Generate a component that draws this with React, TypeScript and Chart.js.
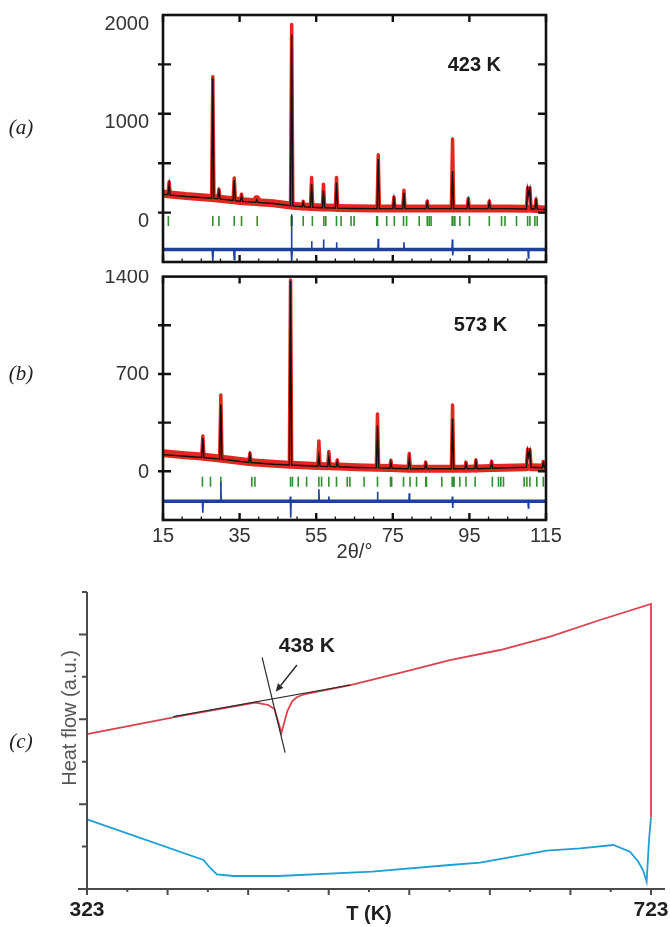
import { useEffect, useRef } from "react";
import { Chart, registerables } from "chart.js";

Chart.register(...registerables);

const SANS = "'Liberation Sans', Arial, Helvetica, sans-serif";
const SERIF = "'Liberation Serif', 'Times New Roman', serif";

// ---------------- shared 2θ axis ----------------
const twoThetaLabels = [15, 35, 55, 75, 95, 115];
const twoThetaMinor = [20, 25, 30, 40, 45, 50, 60, 65, 70, 80, 85, 90, 100, 105, 110];

// ---------------- (a) 423 K ----------------
const tthA = [15, 16.3, 16.6, 16.9, 21, 27.7, 28.0, 28.3, 29.3, 29.6, 29.9, 33.3, 33.6, 33.9, 35.2, 35.5, 35.8, 39.2, 39.5, 39.8, 43.8, 48.3, 48.6, 48.9, 51.3, 51.6, 51.9, 53.5, 53.8, 54.1, 56.6, 56.9, 57.2, 60.0, 60.3, 60.6, 65, 70.9, 71.2, 71.5, 75.0, 75.3, 75.6, 77.6, 77.9, 78.2, 83.7, 84.0, 84.3, 90.3, 90.6, 90.9, 94.4, 94.7, 95.0, 99.9, 100.2, 100.5, 104.7, 109.9, 110.2, 110.5, 110.8, 111.1, 112.1, 112.4, 112.7, 115];
const obsA = [195, 186, 311, 184, 168, 148, 1375, 146, 142, 237, 140, 125, 349, 123, 118, 186, 116, 106, 135, 105, 95, 72, 1905, 70, 62, 114, 61, 57, 356, 56, 52, 288, 51, 48, 356, 47, 44, 41, 586, 41, 41, 159, 41, 41, 227, 41, 41, 118, 41, 41, 745, 41, 41, 142, 41, 41, 118, 41, 41, 38, 254, 190, 250, 38, 37, 135, 36, 32];
const calcA = [185, 180, 290, 178, 163, 145, 1360, 143, 140, 220, 138, 123, 330, 121, 116, 170, 114, 104, 130, 103, 92, 70, 1800, 68, 60, 105, 59, 55, 290, 54, 50, 220, 49, 46, 305, 45, 42, 40, 545, 40, 40, 140, 40, 40, 200, 40, 40, 100, 40, 40, 420, 40, 40, 125, 40, 40, 105, 40, 40, 37, 245, 180, 240, 37, 36, 125, 35, 31];
const diffTthA = [15, 27.85, 28.0, 28.15, 33.45, 33.6, 33.75, 48.45, 48.55, 48.65, 48.75, 53.7, 53.8, 53.9, 56.8, 56.9, 57.0, 60.2, 60.3, 60.4, 71.1, 71.2, 71.3, 77.8, 77.9, 78.0, 90.45, 90.55, 90.65, 90.75, 110.3, 110.4, 110.5, 115];
const diffA = [-373, -373, -492, -373, -373, -475, -373, -373, -17, -492, -373, -373, -289, -373, -373, -272, -373, -373, -299, -373, -373, -265, -373, -373, -300, -373, -373, -272, -434, -373, -373, -458, -373, -373];
const braggA = [16.4, 28.0, 29.6, 33.6, 35.5, 39.6, 48.5, 48.7, 51.6, 54.0, 57.0, 57.5, 60.3, 61.5, 64.1, 64.9, 70.8, 71.0, 73.4, 75.4, 77.8, 78.6, 81.9, 84.0, 84.5, 85.0, 90.5, 90.7, 91.2, 92.5, 95.0, 100.2, 103.4, 104.3, 107.3, 110.2, 110.8, 112.1, 112.7];
const yLabelsA = [0, 1000, 2000];
const yMarksA = [0, 500, 1000, 1500];

// ---------------- (b) 573 K ----------------
const tthB = [15, 20, 25.1, 25.4, 25.7, 29.8, 30.1, 30.4, 37.4, 37.7, 38.0, 43.8, 48.0, 48.3, 48.6, 55.4, 55.7, 56.0, 58.0, 58.3, 58.6, 60.2, 60.5, 60.8, 65.6, 70.7, 71.0, 71.3, 74.2, 74.5, 74.8, 79.0, 79.3, 79.6, 83.3, 83.6, 83.9, 90.3, 90.6, 90.9, 93.8, 94.1, 94.4, 96.4, 96.7, 97.0, 100.5, 100.8, 101.1, 109.9, 110.2, 110.5, 110.8, 111.1, 114.0, 114.3, 114.6, 115];
const obsB = [130, 118, 106, 254, 105, 92, 548, 91, 67, 131, 66, 54, 47, 1375, 47, 39, 218, 39, 37, 143, 37, 35, 82, 35, 30, 26, 413, 26, 23, 80, 23, 19, 129, 19, 19, 66, 19, 19, 477, 19, 19, 66, 19, 20, 82, 20, 23, 73, 23, 30, 160, 110, 155, 30, 27, 71, 27, 26];
const calcB = [120, 110, 100, 240, 99, 88, 480, 87, 64, 120, 63, 51, 45, 1370, 45, 37, 110, 37, 35, 100, 35, 33, 70, 33, 28, 25, 330, 25, 22, 65, 22, 18, 90, 18, 18, 55, 18, 18, 380, 18, 18, 55, 18, 19, 70, 19, 22, 62, 22, 29, 150, 105, 148, 29, 26, 60, 26, 25];
const diffTthB = [15, 25.3, 25.4, 25.5, 30.0, 30.1, 30.2, 48.15, 48.25, 48.35, 48.45, 55.6, 55.7, 55.8, 58.2, 58.3, 58.4, 70.9, 71.0, 71.1, 79.2, 79.3, 79.4, 90.45, 90.55, 90.65, 90.75, 110.3, 110.4, 110.5, 115];
const diffB = [-216, -216, -298, -216, -216, -75, -216, -216, -181, -333, -216, -216, -129, -216, -216, -181, -216, -216, -146, -216, -216, -158, -216, -216, -181, -263, -216, -216, -263, -216, -216];
const braggB = [25.3, 27.4, 30.1, 38.2, 39.0, 48.3, 48.8, 50.3, 52.5, 55.7, 56.4, 58.3, 60.3, 63.1, 63.8, 67.5, 71.0, 74.4, 74.7, 77.8, 79.5, 81.2, 83.6, 83.8, 87.8, 90.5, 90.8, 91.0, 92.5, 94.1, 96.5, 101.0, 102.6, 103.2, 103.9, 109.3, 110.0, 110.8, 112.6, 114.3];
const yLabelsB = [0, 700, 1400];
const yMarksB = [0, 350, 700, 1050];

// ---------------- (c) DSC ----------------
const heatT = [323, 386.9, 442.3, 451.6, 455.9, 458.7, 460.9, 463.0, 465.1, 468.6, 472.1, 477.7, 509.8, 552.7, 580.3, 616, 651.4, 686.8, 723, 723];
const heatU = [3.65, 4.06, 4.395, 4.337, 4.242, 3.936, 3.677, 3.936, 4.195, 4.431, 4.525, 4.596, 4.808, 5.161, 5.397, 5.633, 5.946, 6.34, 6.717, 1.69];
const coolT = [723, 721.6, 719.9, 717.3, 714.0, 708.1, 696.3, 672.7, 649.1, 601.8, 580.3, 525.1, 458.7, 426.9, 415.1, 410.4, 405.6, 323];
const coolU = [1.69, 1.155, 0.172, 0.448, 0.643, 0.879, 1.037, 0.959, 0.903, 0.62, 0.566, 0.408, 0.306, 0.306, 0.346, 0.495, 0.683, 1.643];
const baselineT = [384.2, 509.8];
const baselineU = [4.061, 4.808];
const slopeT = [447.2, 463.5];
const slopeU = [5.461, 3.212];
const arrowT = [471.9, 456.8];
const arrowU = [5.279, 4.65];
const onsetLabel = { text: "438 K", T: 478.9, U: 5.727 };
const yTitleC = { text: "Heat flow (a.u.)", U: 4.03 };
const dscMin = 323;
const dscMax = 723;
const dscLabelValues = [323, 723];
const dscTickIntervals = 14;
const dscYMarks = [1, 2, 3, 4, 5, 6, 7];

type XY = { x: number; y: number };
const zip = (xs: number[], ys: number[]): XY[] => xs.map((x, i) => ({ x, y: ys[i] }));

const noPad = (s: any) => {
  s.paddingTop = 0;
  s.paddingBottom = 0;
  s.paddingLeft = 0;
  s.paddingRight = 0;
};

interface XrdPanel {
  tth: number[];
  obs: number[];
  calc: number[];
  dTth: number[];
  diff: number[];
  bragg: number[];
  braggLevel: number;
  yMin: number;
  yMax: number;
  yLabels: number[];
  yMarks: number[];
  labelOffset: number;
  showX: boolean;
  temp: string;
  tempX: number;
  tempY: number;
  padTop: number;
  xHeight: number;
}

function framePlugin(p: XrdPanel) {
  return {
    id: "frame",
    afterDatasetsDraw(chart: any) {
      const { ctx, chartArea: a } = chart;
      const xs = chart.scales.x;
      const ys = chart.scales.y;
      ctx.save();
      ctx.strokeStyle = "#111";
      ctx.lineCap = "butt";
      ctx.lineWidth = 2.4;
      ctx.beginPath();
      for (const v of twoThetaLabels) {
        const px = xs.getPixelForValue(v);
        ctx.moveTo(px, a.bottom);
        ctx.lineTo(px, a.bottom - 7);
        ctx.moveTo(px, a.top);
        ctx.lineTo(px, a.top + 7);
      }
      for (const v of p.yMarks) {
        const py = ys.getPixelForValue(v);
        ctx.moveTo(a.left - 5, py);
        ctx.lineTo(a.left + 8, py);
        ctx.moveTo(a.right - 8, py);
        ctx.lineTo(a.right, py);
      }
      ctx.stroke();
      ctx.lineWidth = 1.3;
      ctx.beginPath();
      for (const v of twoThetaMinor) {
        const px = xs.getPixelForValue(v);
        ctx.moveTo(px, a.bottom);
        ctx.lineTo(px, a.bottom - 3.5);
      }
      ctx.stroke();
      ctx.lineWidth = 2.6;
      ctx.strokeRect(a.left, a.top, a.right - a.left, a.bottom - a.top);
      ctx.fillStyle = "#1a1a1a";
      ctx.font = `bold 20px ${SANS}`;
      ctx.textAlign = "center";
      ctx.textBaseline = "middle";
      ctx.fillText(p.temp, xs.getPixelForValue(p.tempX), ys.getPixelForValue(p.tempY));
      ctx.restore();
    },
  };
}

function buildXrd(canvas: HTMLCanvasElement, p: XrdPanel) {
  const tickFont = { family: SANS, size: 20 };
  return new Chart(canvas, {
    type: "scatter",
    data: {
      datasets: [
        {
          label: "calc",
          data: zip(p.tth, p.calc),
          showLine: true,
          pointRadius: 0,
          borderColor: "#111",
          borderWidth: 1.4,
          order: 0,
        },
        {
          label: "obs",
          data: zip(p.tth, p.obs),
          showLine: true,
          pointRadius: 0,
          borderColor: "#e3261f",
          borderWidth: 8,
          borderCapStyle: "round",
          borderJoinStyle: "round",
          segment: {
            borderWidth: (c: any) => (Math.abs(c.p1.y - c.p0.y) > 5 ? 3.5 : 8),
          },
          order: 3,
        },
        {
          label: "diff",
          data: zip(p.dTth, p.diff),
          showLine: true,
          pointRadius: 0,
          borderColor: "#1d3f9e",
          borderWidth: 3.5,
          borderCapStyle: "round",
          segment: {
            borderWidth: (c: any) => (Math.abs(c.p1.y - c.p0.y) > 3 ? 1.6 : 3.5),
          },
          order: 1,
        },
        {
          label: "bragg",
          data: p.bragg.map((x) => ({ x, y: p.braggLevel })),
          showLine: false,
          pointStyle: "line",
          rotation: 90,
          pointRadius: 5,
          pointBorderColor: "#2f8f2f",
          pointBorderWidth: 1.6,
          borderColor: "#2f8f2f",
          order: 2,
        },
      ] as any,
    },
    options: {
      responsive: false,
      animation: false,
      devicePixelRatio: 1,
      events: [],
      layout: { padding: { left: 0, right: 124, top: p.padTop, bottom: 0 } },
      plugins: { legend: { display: false }, tooltip: { enabled: false } },
      scales: {
        x: {
          type: "linear",
          min: 15,
          max: 115,
          grid: { display: false },
          border: { display: false },
          afterBuildTicks: (s: any) => {
            s.ticks = twoThetaLabels.map((v) => ({ value: v }));
          },
          ticks: {
            display: p.showX,
            autoSkip: false,
            maxRotation: 0,
            minRotation: 0,
            font: tickFont,
            color: "#333",
            padding: -4,
            callback: (v: any) => String(v),
          },
          title: {
            display: p.showX,
            text: "2θ/°",
            font: { family: SANS, size: 20 },
            color: "#333",
            padding: { top: 0, bottom: 6 },
          },
          afterFit: (s: any) => {
            s.height = p.xHeight;
            noPad(s);
          },
        },
        y: {
          type: "linear",
          min: p.yMin,
          max: p.yMax,
          grid: { display: false },
          border: { display: false },
          afterBuildTicks: (s: any) => {
            s.ticks = p.yLabels.map((v) => ({ value: v }));
          },
          ticks: {
            font: tickFont,
            color: "#333",
            padding: 6,
            labelOffset: p.labelOffset,
            callback: (v: any) => String(v),
          },
          afterFit: (s: any) => {
            s.width = 163;
            noPad(s);
          },
        },
      },
    } as any,
    plugins: [framePlugin(p)],
  });
}

const panelA: XrdPanel = {
  tth: tthA,
  obs: obsA,
  calc: calcA,
  dTth: diffTthA,
  diff: diffA,
  bragg: braggA,
  braggLevel: -85,
  yMin: -500,
  yMax: 2000,
  yLabels: yLabelsA,
  yMarks: yMarksA,
  labelOffset: 9,
  showX: false,
  temp: "423 K",
  tempX: 96.3,
  tempY: 1490,
  padTop: 15,
  xHeight: 8,
};

const panelB: XrdPanel = {
  tth: tthB,
  obs: obsB,
  calc: calcB,
  dTth: diffTthB,
  diff: diffB,
  bragg: braggB,
  braggLevel: -75,
  yMin: -350,
  yMax: 1400,
  yLabels: yLabelsB,
  yMarks: yMarksB,
  labelOffset: 1,
  showX: true,
  temp: "573 K",
  tempX: 97.9,
  tempY: 1050,
  padTop: 4,
  xHeight: 50,
};

function dscPlugin() {
  return {
    id: "dscAxes",
    afterDatasetsDraw(chart: any) {
      const { ctx, chartArea: a } = chart;
      const xs = chart.scales.x;
      const ys = chart.scales.y;
      ctx.save();
      ctx.strokeStyle = "#4a4a4a";
      ctx.lineWidth = 2;
      ctx.beginPath();
      ctx.moveTo(a.left, a.top);
      ctx.lineTo(a.left, a.bottom);
      ctx.moveTo(a.left - 9, a.bottom);
      ctx.lineTo(a.right + 14, a.bottom);
      for (const v of dscYMarks) {
        const py = ys.getPixelForValue(v);
        const len = v % 2 === 0 ? 8 : 5;
        ctx.moveTo(a.left - len, py);
        ctx.lineTo(a.left, py);
      }
      for (let i = 0; i <= dscTickIntervals; i++) {
        const v = dscMin + (i * (dscMax - dscMin)) / dscTickIntervals;
        const px = xs.getPixelForValue(v);
        const len = i % 2 === 0 ? 6 : 3;
        ctx.moveTo(px, a.bottom);
        ctx.lineTo(px, a.bottom + len);
      }
      ctx.stroke();

      // arrow
      const x0 = xs.getPixelForValue(arrowT[0]);
      const y0 = ys.getPixelForValue(arrowU[0]);
      const x1 = xs.getPixelForValue(arrowT[1]);
      const y1 = ys.getPixelForValue(arrowU[1]);
      const ang = Math.atan2(y1 - y0, x1 - x0);
      const hl = 8;
      const hw = 3.5;
      const bx = x1 - Math.cos(ang) * hl;
      const by = y1 - Math.sin(ang) * hl;
      ctx.strokeStyle = "#2a2a2a";
      ctx.fillStyle = "#2a2a2a";
      ctx.lineWidth = 1.4;
      ctx.beginPath();
      ctx.moveTo(x0, y0);
      ctx.lineTo(bx, by);
      ctx.stroke();
      ctx.beginPath();
      ctx.moveTo(x1, y1);
      ctx.lineTo(bx + Math.sin(ang) * hw, by - Math.cos(ang) * hw);
      ctx.lineTo(bx - Math.sin(ang) * hw, by + Math.cos(ang) * hw);
      ctx.closePath();
      ctx.fill();

      ctx.fillStyle = "#1f1f1f";
      ctx.font = `bold 21px ${SANS}`;
      ctx.textAlign = "center";
      ctx.textBaseline = "middle";
      ctx.fillText(onsetLabel.text, xs.getPixelForValue(onsetLabel.T), ys.getPixelForValue(onsetLabel.U));

      // y-axis title
      ctx.save();
      ctx.translate(70, ys.getPixelForValue(yTitleC.U));
      ctx.rotate(-Math.PI / 2);
      ctx.fillStyle = "#555";
      ctx.font = `20px ${SANS}`;
      ctx.fillText(yTitleC.text, 0, 0);
      ctx.restore();

      ctx.restore();
    },
  };
}

function buildDsc(canvas: HTMLCanvasElement) {
  return new Chart(canvas, {
    type: "scatter",
    data: {
      datasets: [
        {
          label: "baseline",
          data: zip(baselineT, baselineU),
          showLine: true,
          pointRadius: 0,
          borderColor: "#2a2a2a",
          borderWidth: 1.2,
          order: 0,
        },
        {
          label: "slope",
          data: zip(slopeT, slopeU),
          showLine: true,
          pointRadius: 0,
          borderColor: "#2a2a2a",
          borderWidth: 1.2,
          order: 0,
        },
        {
          label: "heating",
          data: zip(heatT, heatU),
          showLine: true,
          pointRadius: 0,
          borderColor: "#d8434f",
          borderWidth: 1.8,
          clip: false,
          order: 2,
        },
        {
          label: "cooling",
          data: zip(coolT, coolU),
          showLine: true,
          pointRadius: 0,
          borderColor: "#1f9fd6",
          borderWidth: 1.8,
          clip: false,
          order: 1,
        },
      ] as any,
    },
    options: {
      responsive: false,
      animation: false,
      devicePixelRatio: 1,
      events: [],
      layout: { padding: { left: 0, right: 19, top: 22, bottom: 0 } },
      plugins: { legend: { display: false }, tooltip: { enabled: false } },
      scales: {
        x: {
          type: "linear",
          min: dscMin,
          max: dscMax,
          grid: { display: false },
          border: { display: false },
          afterBuildTicks: (s: any) => {
            const t = [];
            for (let i = 0; i <= dscTickIntervals; i++) {
              t.push({ value: dscMin + (i * (dscMax - dscMin)) / dscTickIntervals });
            }
            s.ticks = t;
          },
          ticks: {
            autoSkip: false,
            maxRotation: 0,
            minRotation: 0,
            font: { family: SANS, size: 21, weight: "bold" },
            color: "#1f1f1f",
            padding: 1,
            callback: (v: any) => {
              const hit = dscLabelValues.find((l) => Math.abs(l - Number(v)) < 0.01);
              return hit !== undefined ? String(hit) : "";
            },
          },
          title: {
            display: true,
            text: "T (K)",
            font: { family: SANS, size: 20, weight: "bold" },
            color: "#1f1f1f",
            padding: { top: 0, bottom: 1 },
          },
          afterFit: (s: any) => {
            s.height = 38;
            noPad(s);
          },
        },
        y: {
          type: "linear",
          min: 0,
          max: 7,
          grid: { display: false },
          border: { display: false },
          ticks: { display: false },
          afterFit: (s: any) => {
            s.width = 87;
            noPad(s);
          },
        },
      },
    } as any,
    plugins: [dscPlugin()],
  });
}

function ChartCanvas({ top, height, build }: { top: number; height: number; build: (c: HTMLCanvasElement) => Chart }) {
  const ref = useRef<HTMLCanvasElement>(null);
  useEffect(() => {
    if (!ref.current) return;
    const chart = build(ref.current);
    return () => chart.destroy();
  }, [build]);
  return (
    <canvas
      ref={ref}
      width={670}
      height={height}
      style={{ position: "absolute", left: 0, top, width: 670, height, display: "block" }}
    />
  );
}

function PanelLabel({ text, x, y }: { text: string; x: number; y: number }) {
  return (
    <div
      style={{
        position: "absolute",
        left: x,
        top: y,
        transform: "translate(-50%, -50%)",
        fontFamily: SERIF,
        fontStyle: "italic",
        fontSize: 21,
        lineHeight: 1,
        color: "#222",
        whiteSpace: "nowrap",
      }}
    >
      {text}
    </div>
  );
}

const buildA = (c: HTMLCanvasElement) => buildXrd(c, panelA);
const buildB = (c: HTMLCanvasElement) => buildXrd(c, panelB);

export default function App() {
  return (
    <div style={{ position: "absolute", left: 0, top: 0, width: 670, height: 927, background: "#fff", overflow: "hidden" }}>
      <ChartCanvas top={0} height={270} build={buildA} />
      <ChartCanvas top={270} height={300} build={buildB} />
      <ChartCanvas top={570} height={357} build={buildDsc} />
      <PanelLabel text="(a)" x={21} y={127} />
      <PanelLabel text="(b)" x={21} y={373} />
      <PanelLabel text="(c)" x={21} y={741} />
    </div>
  );
}
